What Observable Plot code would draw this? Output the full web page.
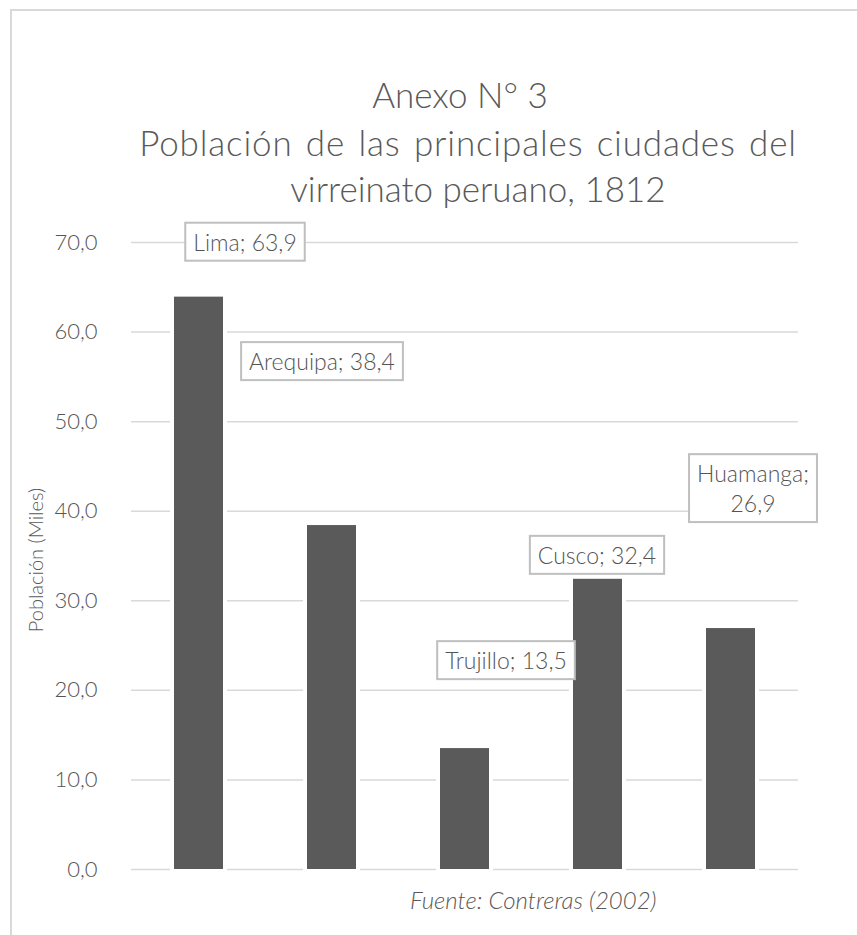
<!DOCTYPE html>
<html>
<head>
<meta charset="utf-8">
<script src="https://cdn.jsdelivr.net/npm/d3@7"></script>
<script src="https://cdn.jsdelivr.net/npm/@observablehq/plot@0.6"></script>
<style>
  html, body { margin: 0; padding: 0; background: #fff; overflow: hidden; }
  #wrap { position: relative; width: 857px; height: 935px; overflow: hidden; font-family: Lato, "Open Sans", sans-serif; color: #595959; }
  #frame { position: absolute; left: 10px; top: 9px; width: 900px; height: 1000px; border: 2px solid #d9d9d9; box-sizing: border-box; }
  .title { position: absolute; width: 700px; text-align: center; font-size: 35px; font-weight: 300; white-space: nowrap; line-height: 1; }
  #t2 { word-spacing: 3px; letter-spacing: 0.85px; }
  #ylabel { position: absolute; left: 35px; top: 560px; transform: translate(-50%, -50%) rotate(-90deg); font-size: 20px; font-weight: 300; white-space: nowrap; line-height: 1; }
  #caption { position: absolute; left: 410px; top: 888px; font-size: 24px; font-weight: 300; font-style: italic; white-space: nowrap; line-height: 1; }
  #chart { position: absolute; left: 0; top: 210px; }
</style>
</head>
<body>
<div id="wrap">
  <div id="frame"></div>
  <div class="title" id="t1">Anexo N° 3</div>
  <div class="title" id="t2">Población de las principales ciudades del</div>
  <div class="title" id="t3">virreinato peruano, 1812</div>
  <div id="ylabel">Población (Miles)</div>
  <div id="chart"></div>
  <div id="caption">Fuente: Contreras (2002)</div>
</div>
<script>
// ---- data ----
const cities = ["Lima", "Arequipa", "Trujillo", "Cusco", "Huamanga"];
const population = [63.9, 38.4, 13.5, 32.4, 26.9];
const labelTexts = ["Lima; 63,9", "Arequipa; 38,4", "Trujillo; 13,5", "Cusco; 32,4", "Huamanga;\n26,9"];
const yTicks = [0, 10, 20, 30, 40, 50, 60, 70];
const yTickLabels = ["0,0", "10,0", "20,0", "30,0", "40,0", "50,0", "60,0", "70,0"];

// ---- layout (label offsets from bar top, px) ----
const labelOffsets = [[46, -56], [-10, -165], [41, -89], [-1, -25], [22, -141]];

// title placement (center x, top y)
const titlePos = [[460, 77], [468, 125], [478, 171]];
["t1", "t2", "t3"].forEach((id, i) => {
  const el = document.getElementById(id);
  el.style.left = (titlePos[i][0] - 350) + "px";
  el.style.top = titlePos[i][1] + "px";
});

const data = cities.map((c, i) => ({city: c, value: population[i], label: labelTexts[i]}));

const labelMarks = data.map((d, i) => Plot.text([d], {
  x: "city", y: "value", text: "label",
  dx: labelOffsets[i][0], dy: labelOffsets[i][1],
  textAnchor: "middle", lineAnchor: "middle", lineHeight: 1.3,
  fontSize: 23, fontWeight: 300, fill: "#555555"
}));

const chart = Plot.plot({
  width: 857, height: 725,
  marginLeft: 131, marginRight: 59, marginTop: 32, marginBottom: 66,
  style: {fontFamily: "Lato, 'Open Sans', sans-serif", background: "transparent", overflow: "visible"},
  x: {domain: cities, paddingInner: 0.633, paddingOuter: 0.3165, axis: null},
  y: {domain: [0, 70]},
  marks: [
    Plot.gridY(yTicks, {stroke: "#d9d9d9", strokeOpacity: 1, strokeWidth: 1.5}),
    Plot.axisY(yTicks, {tickSize: 0, tickPadding: 34, tickFormat: d => yTickLabels[yTicks.indexOf(d)], fontSize: 22, fontWeight: 300, fill: "#555555", label: null}),
    Plot.barY(data, {x: "city", y: "value", fill: "white", insetLeft: -4, insetRight: -4, insetBottom: -3}),
    Plot.barY(data, {x: "city", y: "value", fill: "#5a5a5a"}),
    ...labelMarks
  ]
});
document.getElementById("chart").appendChild(chart);

// boxes around data labels (drawn behind label text)
const svgRect = chart.getBoundingClientRect();
const norm = s => s.replace(/\n/g, "");
const wanted = labelTexts.map(norm);
const texts = Array.from(chart.querySelectorAll("text")).filter(t => wanted.includes(t.textContent));
texts.forEach(t => {
  const b = t.getBoundingClientRect();
  const padX = 8, padY = 5;
  const r = document.createElementNS("http://www.w3.org/2000/svg", "rect");
  r.setAttribute("x", b.left - svgRect.left - padX);
  r.setAttribute("y", b.top - svgRect.top - padY);
  r.setAttribute("width", b.width + 2 * padX);
  r.setAttribute("height", b.height + 2 * padY);
  r.setAttribute("fill", "white");
  r.setAttribute("stroke", "#bfbfbf");
  r.setAttribute("stroke-width", 2);
  const g = t.closest("g");
  chart.insertBefore(r, g);
});
</script>
</body>
</html>
